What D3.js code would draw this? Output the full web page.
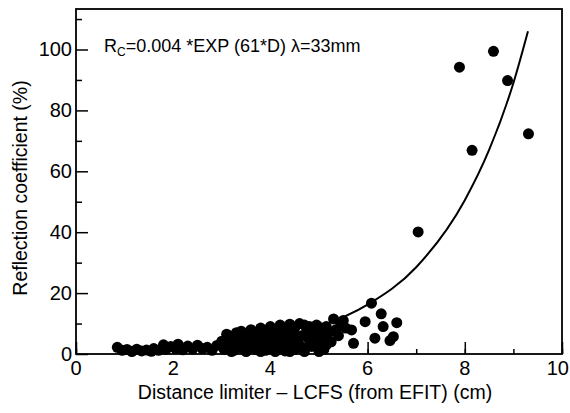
<!DOCTYPE html>
<html>
<head>
<meta charset="utf-8">
<script src="https://cdn.jsdelivr.net/npm/d3@7"></script>
<style>
  body { margin: 0; background: #fff; }
  svg text { font-family: "Liberation Sans", Arial, sans-serif; fill: #000; }
</style>
</head>
<body>
<script>
// measured points (distance cm, reflection %)
const distX = [
  0.85, 0.95, 1.05, 1.15, 1.25, 1.35, 1.45, 1.55, 1.6, 1.7, 1.8, 1.85, 1.95, 2.05, 2.1, 2.2, 2.3, 2.4,
  2.5, 2.6, 2.7, 2.8, 2.9, 3.0, 3.05,
  3.1, 3.15, 3.2, 3.25, 3.3, 3.3, 3.35, 3.4, 3.4, 3.45, 3.5, 3.5, 3.55, 3.6, 3.6, 3.65, 3.7, 3.7, 3.75,
  3.8, 3.8, 3.85, 3.9, 3.9, 3.95, 4.0, 4.0, 4.05, 4.1, 4.1, 4.15, 4.2, 4.2, 4.25, 4.3, 4.3, 4.35, 4.4,
  4.4, 4.45, 4.5, 4.5, 4.55, 4.6, 4.6, 4.65, 4.7, 4.7, 4.75, 4.8, 4.8, 4.85, 4.9, 4.9, 4.95, 5.0, 5.0,
  5.05, 5.1, 5.1, 5.15, 5.2, 5.25, 5.3, 5.35, 5.4, 5.45, 5.5, 5.55, 3.2, 3.5, 3.8, 4.1, 4.4, 4.7, 5.0,
  3.35, 3.65, 3.95, 4.25, 4.55, 4.85, 5.15,
  5.67, 5.71, 5.95, 6.08, 6.15, 6.28, 6.32, 6.46, 6.53, 6.60, 7.04, 7.89, 8.15, 8.59, 8.88, 9.31
];
const reflY = [
  2.2, 1.2, 1.5, 0.8, 1.6, 1.0, 1.3, 0.9, 1.8, 1.2, 3.0, 1.5, 2.5, 1.8, 3.2, 1.4, 2.6, 1.6,
  2.9, 1.8, 2.2, 1.2, 2.8, 4.2, 1.5,
  6.5, 2.5, 5.0, 1.2, 7.0, 3.5, 5.5, 2.0, 7.5, 4.5, 1.0, 6.0, 3.0, 8.0, 4.8, 2.2, 6.5, 1.5, 4.0,
  8.5, 2.8, 6.0, 1.2, 4.5, 7.5, 3.0, 9.0, 5.5, 1.8, 7.0, 4.0, 9.5, 2.5, 6.0, 1.0, 8.0, 4.5, 9.8,
  2.8, 6.5, 1.5, 8.5, 4.0, 10.0, 3.0, 6.0, 9.5, 1.8, 7.5, 4.5, 9.0, 2.5, 7.0, 5.0, 9.5, 3.0, 6.5,
  8.5, 1.5, 5.0, 9.0, 7.0, 4.0, 11.5, 8.0, 6.0, 9.5, 11.0, 8.5, 0.8, 0.8, 0.8, 0.8, 0.8, 0.8, 0.8,
  3.8, 3.5, 3.2, 3.5, 3.0, 3.5, 3.0,
  7.9, 3.5, 10.6, 16.7, 5.2, 13.2, 9.0, 4.4, 5.7, 10.3, 40.1, 94.2, 66.9, 99.4, 89.8, 72.3
];

// fitted curve
const fitX = [0.8, 2, 3, 4, 5, 6, 7, 8, 8.5, 9, 9.3];
const fitY = [0.9, 1.8, 2.9, 5.0, 9.0, 16.2, 28.5, 50.5, 67, 89, 106];

const xTicks = [0, 2, 4, 6, 8, 10];
const yTicks = [0, 20, 40, 60, 80, 100];

const width = 570, height = 413;
const padL = 76, padR = 562, padT = 9, padB = 354;

const svg = d3.select('body').append('svg').attr('width', width).attr('height', height);

const x = d3.scaleLinear().domain([0, 10]).range([padL, padR]);
const y = d3.scaleLinear().domain([0, 113.3]).range([padB, padT]);

// frame
svg.append('rect')
  .attr('x', padL).attr('y', padT)
  .attr('width', padR - padL).attr('height', padB - padT)
  .attr('fill', 'none').attr('stroke', '#000').attr('stroke-width', 1.8);

// minor ticks
let xMinor = d3.axisTop(x).ticks(10).tickSize(5).tickFormat('');
let yMinor = d3.axisRight(y).tickValues(d3.range(10, 113, 20)).tickSize(6).tickFormat('');
svg.append('g').attr('transform', `translate(0,${padB})`).call(xMinor)
  .call(g => g.select('.domain').remove())
  .selectAll('line').attr('stroke-width', 1.5);
svg.append('g').attr('transform', `translate(${padL},0)`).call(yMinor)
  .call(g => g.select('.domain').remove())
  .selectAll('line').attr('stroke-width', 1.5);

// major ticks + labels
let xAxis = d3.axisTop(x).tickValues(xTicks).tickSize(12).tickFormat('');
svg.append('g').attr('transform', `translate(0,${padB})`).call(xAxis)
  .call(g => g.select('.domain').remove())
  .selectAll('line').attr('stroke-width', 1.5);
let yAxis = d3.axisRight(y).tickValues(yTicks).tickSize(12).tickFormat('');
svg.append('g').attr('transform', `translate(${padL},0)`).call(yAxis)
  .call(g => g.select('.domain').remove())
  .selectAll('line').attr('stroke-width', 1.5);

svg.append('g').selectAll('text').data(xTicks).enter()
  .append('text')
  .attr('x', d => d === 10 ? 569 : x(d)).attr('y', padB + 21)
  .attr('text-anchor', d => d === 10 ? 'end' : 'middle')
  .attr('font-size', 20)
  .text(d => d);

svg.append('g').selectAll('text').data(yTicks).enter()
  .append('text')
  .attr('x', padL - 4).attr('y', d => y(d) + 7)
  .attr('text-anchor', 'end')
  .attr('font-size', 20)
  .text(d => d);

// axis titles
svg.append('text')
  .attr('x', 315).attr('y', 399)
  .attr('text-anchor', 'middle')
  .attr('font-size', 19.5)
  .text('Distance limiter – LCFS (from EFIT) (cm)');

svg.append('text')
  .attr('transform', `translate(27,188) rotate(-90)`)
  .attr('text-anchor', 'middle')
  .attr('font-size', 19.5)
  .text('Reflection coefficient (%)');

// formula
let ann = svg.append('text').attr('x', 104).attr('y', 52).attr('font-size', 18);
ann.append('tspan').text('R');
ann.append('tspan').attr('font-size', 12).attr('dy', 4).text('C');
ann.append('tspan').attr('dy', -4).text('=0.004 *EXP (61*D) λ=33mm');

// points
let pts = distX.map((d, i) => [d, reflY[i]]);
svg.append('g').selectAll('circle').data(pts).enter()
  .append('circle')
  .attr('cx', d => x(d[0]))
  .attr('cy', d => y(d[1]))
  .attr('r', 5.5)
  .attr('fill', '#000');

// fit curve
let line = d3.line().x(d => x(d[0])).y(d => y(d[1])).curve(d3.curveMonotoneX);
svg.append('path')
  .datum(fitX.map((d, i) => [d, fitY[i]]))
  .attr('d', line)
  .attr('fill', 'none')
  .attr('stroke', '#000')
  .attr('stroke-width', 2);
</script>
</body>
</html>
